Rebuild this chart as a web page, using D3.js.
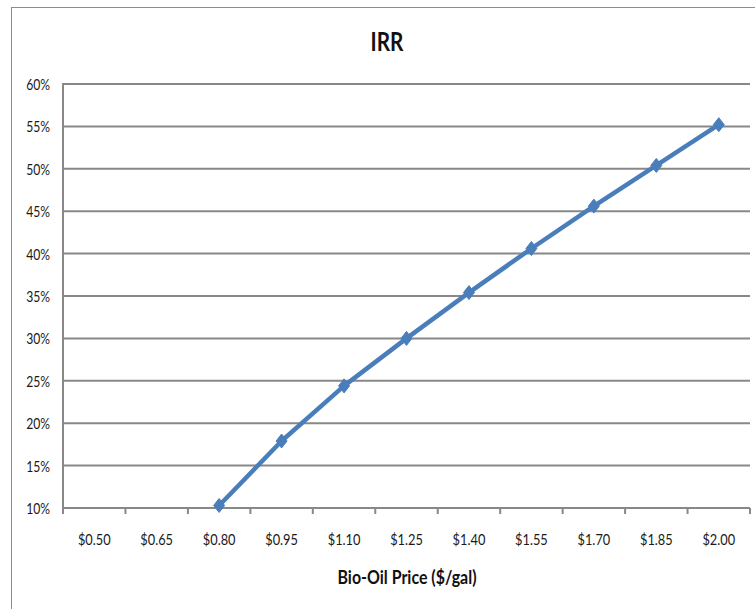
<!DOCTYPE html>
<html>
<head>
<meta charset="utf-8">
<script src="https://cdn.jsdelivr.net/npm/d3@7"></script>
<style>
  html, body { margin: 0; padding: 0; background: #fff; }
  svg { display: block; }
  text { font-family: Lato, "Open Sans", "Noto Sans", sans-serif; }
</style>
</head>
<body>
<script>
// Bio-oil price points and internal rate of return at each price
const prices = ["$0.50", "$0.65", "$0.80", "$0.95", "$1.10", "$1.25", "$1.40", "$1.55", "$1.70", "$1.85", "$2.00"];
const irrPrices = ["$0.80", "$0.95", "$1.10", "$1.25", "$1.40", "$1.55", "$1.70", "$1.85", "$2.00"];
const irrValues = [0.103, 0.179, 0.244, 0.300, 0.354, 0.406, 0.456, 0.504, 0.552];
const yTicks = [0.10, 0.15, 0.20, 0.25, 0.30, 0.35, 0.40, 0.45, 0.50, 0.55, 0.60];

const W = 755, H = 609;
const margin = { left: 63, right: 5, top: 84, bottom: 101 };
const gridColor = "#888888";
const lineColor = "#4a7ebb";

const svg = d3.select("body").append("svg").attr("width", W).attr("height", H);

// condensed text: horizontal squeeze keeps the tall, narrow letterforms
function label(g, x, y, str, opts) {
  return g.append("text")
    .attr("transform", `translate(${x},${y}) scale(${opts.sx},1)`)
    .attr("text-anchor", opts.anchor || "middle")
    .attr("font-size", opts.size)
    .attr("font-weight", opts.weight || "normal")
    .attr("fill", opts.fill || "#1a1a1a")
    .text(str);
}

// chart frame
svg.append("rect")
  .attr("x", 11.5).attr("y", 7.5)
  .attr("width", W + 10).attr("height", H + 10)
  .attr("fill", "none").attr("stroke", "#8c8c8c").attr("stroke-width", 1);

const x = d3.scaleBand().domain(prices).range([margin.left, W - margin.right]);
const y = d3.scaleLinear().domain([0.10, 0.60]).range([H - margin.bottom, margin.top]);
const fmt = d3.format(".0%");

// horizontal gridlines
svg.append("g")
  .selectAll("line")
  .data(yTicks)
  .join("line")
  .attr("x1", margin.left).attr("x2", W - margin.right)
  .attr("y1", d => y(d)).attr("y2", d => y(d))
  .attr("stroke", gridColor).attr("stroke-width", 2);

// y axis line and labels
const yAxis = svg.append("g");
yAxis.append("line")
  .attr("x1", margin.left).attr("x2", margin.left)
  .attr("y1", y(0.60) - 1).attr("y2", y(0.10) + 1)
  .attr("stroke", gridColor).attr("stroke-width", 2);
yTicks.forEach(t => label(yAxis, 50, y(t) + 6, fmt(t), { sx: 0.76, size: 16 }).attr("text-anchor", "end"));

// x axis with ticks on category boundaries
const xAxisG = svg.append("g").attr("transform", `translate(0,${y(0.10)})`);
xAxisG.append("line")
  .attr("x1", margin.left).attr("x2", W - margin.right)
  .attr("stroke", gridColor).attr("stroke-width", 2);
const boundaries = prices.map(p => x(p)).concat([x(prices[prices.length - 1]) + x.bandwidth()]);
xAxisG.selectAll("line.tick")
  .data(boundaries)
  .join("line")
  .attr("class", "tick")
  .attr("x1", d => d).attr("x2", d => d)
  .attr("y1", 0).attr("y2", 6)
  .attr("stroke", gridColor).attr("stroke-width", 2);
prices.forEach(p => label(xAxisG, x(p) + x.bandwidth() / 2, 37, p, { sx: 0.8, size: 16 }));

// IRR line
const pts = irrPrices.map((p, i) => [x(p) + x.bandwidth() / 2, y(irrValues[i])]);
svg.append("path")
  .attr("d", d3.line()(pts))
  .attr("fill", "none")
  .attr("stroke", lineColor)
  .attr("stroke-width", 4.5)
  .attr("stroke-linejoin", "round");

// diamond markers
const diamond = "M0,-7L5.5,0L0,7L-5.5,0Z";
svg.append("g")
  .selectAll("path")
  .data(pts)
  .join("path")
  .attr("transform", d => `translate(${d[0]},${d[1]})`)
  .attr("d", diamond)
  .attr("fill", lineColor)
  .attr("stroke", lineColor)
  .attr("stroke-width", 1)
  .attr("stroke-linejoin", "round");

// titles
label(svg, 387, 51, "IRR", { sx: 0.8, size: 26, weight: "bold", fill: "#111" });
label(svg, 407, 584, "Bio-Oil Price ($/gal)", { sx: 0.84, size: 19, weight: "bold", fill: "#111" });
</script>
</body>
</html>
